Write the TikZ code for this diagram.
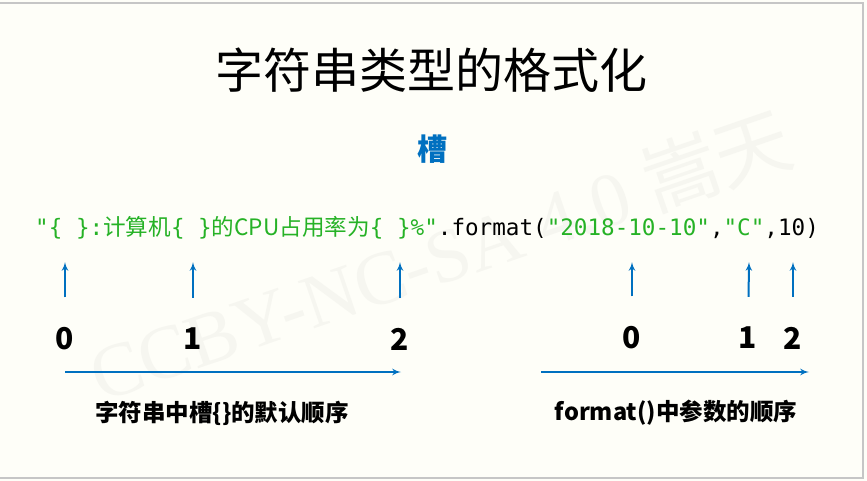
\documentclass[tikz,border=0pt]{standalone}
\usepackage{fontspec}
\setmainfont{Noto Sans CJK SC}
\setmonofont{DejaVu Sans Mono}
\newfontfamily\wmfont{Liberation Serif}
\newfontfamily\wmcjk{Noto Sans CJK SC}
\usetikzlibrary{arrows,positioning}
\definecolor{slidebg}{RGB}{254,254,248}
\definecolor{codegreen}{RGB}{38,178,38}
\definecolor{slotblue}{RGB}{0,112,192}
\definecolor{wmgray}{RGB}{246,246,240}
\tikzset{
     title node/.style={font=\fontsize{48}{56}\selectfont, inner sep=0pt},
     slot title/.style={font=\bfseries\fontsize{30}{34}\selectfont, text=slotblue, inner sep=0pt},
     code node/.style={font=\fontsize{22.6}{27}\selectfont, inner sep=0pt},
     num node/.style={font=\bfseries\fontsize{30}{34}\selectfont, inner sep=0pt},
     order node/.style={font=\bfseries\fontsize{23.5}{28}\selectfont, inner sep=0pt},
     watermark/.style={font=\fontsize{76}{84}\selectfont, text=wmgray, inner sep=0pt},
      slotptr/.style   = {slotblue, line width=2pt, ->, >=latex', shorten <=30pt},
      orderline/.style = {slotblue, line width=2pt, ->, >=latex'},
    }

\begin{document}
\begin{tikzpicture}[x=1pt,y=-1pt]
    \fill[slidebg] (0,0) rectangle (867,481);
    \useasboundingbox (0,0) rectangle (867,481);
    \draw[gray!45, line width=1.5pt] (0,3) -- (863,3) -- (863,478) -- (0,478);

        \node [watermark, rotate=19] (wm) at (440,255) {\wmfont CCBY-NC-SA 4.0 \wmcjk 嵩天};

        \node [title node] (title) at (431,70)  {字符串类型的格式化};
        \node [slot title] (slot)  at (432,149) {槽};

        \node [code node, anchor=base west] (code) at (35,236)
        {\ttfamily\color{codegreen}"\{ \}:{\rmfamily 计算机}\{ \}{\rmfamily 的CPU占用率为}\{ \}\%"\color{black}.format(\color{codegreen}"2018-10-10"\color{black},\color{codegreen}"C"\color{black},10)};

        \coordinate (t0) at (65,262);
        \coordinate (t1) at (193,262);
        \coordinate (t2) at (400,262);
        \coordinate (u0) at (632,262);
        \coordinate (u1) at (749,262);
        \coordinate (u2) at (793,262);

        \node [num node] (n0) at (65,339)  {0};
        \node [num node] (n1) at (193,339) {1};
        \node [num node] (n2) at (400,339) {2};
        \node [num node] (m0) at (632,338) {0};
        \node [num node] (m1) at (748,338) {1};
        \node [num node] (m2) at (793,338) {2};

        \path
        (n0) edge [slotptr] (t0)
        (n1) edge [slotptr] (t1)
        (n2) edge [slotptr] (t2)
        (m0) edge [slotptr] (u0)
        (m1) edge [slotptr] (u1)
        (m2) edge [slotptr] (u2);

        \coordinate (l0) at (65,372);
        \coordinate (l1) at (401,372);
        \coordinate (r0) at (541,372);
        \coordinate (r1) at (809,372);
        \draw [orderline] (l0) -- (l1);
        \draw [orderline] (r0) -- (r1);

        \node [order node] (slotorder) at (222,413) {字符串中槽\{\}的默认顺序};
        \node [order node] (argorder)  at (676,413) {format()中参数的顺序};
    \end{tikzpicture}
\end{document}
